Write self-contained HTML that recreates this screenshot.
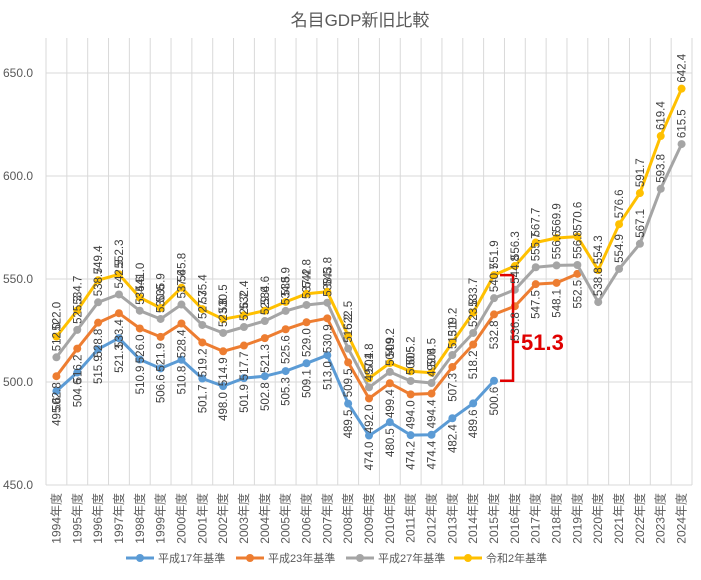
<!DOCTYPE html>
<html><head><meta charset="utf-8"><style>
body{margin:0;background:#fff;font-family:"Liberation Sans","Noto Sans CJK JP",sans-serif;}
svg text{font-family:"Liberation Sans","Noto Sans CJK JP",sans-serif;}
</style></head><body>
<svg id="chart" width="701" height="575" xmlns="http://www.w3.org/2000/svg">
<rect width="701" height="575" fill="#fff"/>
<text x="360" y="26" text-anchor="middle" font-size="17" fill="#595959">名目GDP新旧比較</text>
<g id="grid"></g><g id="series"></g><g id="labels"></g><g id="axes"></g>
</svg>
<script>
const years=[];for(let y=1994;y<=2024;y++)years.push(y);
const yTicks=[450,500,550,600,650];
const seriesNames=["平成17年基準","平成23年基準","平成27年基準","令和2年基準"];
const colors=["#5b9bd5","#ed7d31","#a5a5a5","#ffc000"];
const h17=[495.6,504.6,515.9,521.3,510.9,506.6,510.8,501.7,498.0,501.9,502.8,505.3,509.1,513.0,489.5,474.0,480.5,474.2,474.4,482.4,489.6,500.6];
const h23=[502.8,516.2,528.8,533.4,526.0,521.9,528.4,519.2,514.9,517.7,521.3,525.6,529.0,530.9,509.5,492.0,499.4,494.0,494.4,507.3,518.2,532.8,536.8,547.5,548.1,552.5];
const h27=[512.0,525.3,538.7,542.5,534.6,530.6,537.6,527.7,523.8,526.7,529.6,534.5,537.4,538.5,516.2,497.4,504.9,500.5,499.5,513.1,523.8,540.7,544.8,555.7,556.6,556.8,538.8,554.9,567.1,593.8,615.5];
const r2=[522.0,534.7,549.4,552.3,541.0,535.9,545.8,535.4,530.5,532.4,534.6,538.9,542.8,543.8,522.5,501.8,509.2,505.2,504.5,519.2,533.7,551.9,556.3,567.7,569.9,570.6,554.3,576.6,591.7,619.4,642.4];
const allSeries=[h17,h23,h27,r2];
const NS="http://www.w3.org/2000/svg";
const plotLeft=46,plotRight=692,plotTop=73,plotBottom=485;
const step=(plotRight-plotLeft)/years.length;
function X(i){return plotLeft+step*(i+0.5);}
function Y(v){return plotBottom-(v-450)/200*(plotBottom-plotTop);}
function mk(tag,attrs,parent,text){const e=document.createElementNS(NS,tag);for(const k in attrs)e.setAttribute(k,attrs[k]);if(text!==undefined)e.textContent=text;parent.appendChild(e);return e;}
const grid=document.getElementById('grid'),ser=document.getElementById('series'),lab=document.getElementById('labels'),ax=document.getElementById('axes');
yTicks.forEach(t=>{
 const l=mk('line',{x1:plotLeft,x2:plotRight,y1:Y(t),y2:Y(t),stroke:'#d9d9d9','stroke-width':1},grid);
 
 
 const tx=mk('text',{x:33,y:Y(t)+4,'text-anchor':'end','font-size':12,fill:'#595959'},ax,t.toFixed(1));
 
 
});
for(let i=0;i<=years.length;i++){
 const x=plotLeft+step*i;
 const l=mk('line',{x1:x,x2:x,y1:plotTop-35,y2:plotBottom,stroke:'#d9d9d9','stroke-width':1},grid);
 
 
}
years.forEach((y,i)=>{
 const tx=mk('text',{transform:`translate(${X(i)+4},${plotBottom+8}) rotate(-90)`,'text-anchor':'end','font-size':12,fill:'#595959'},ax,y+'年度');
 
 
});
allSeries.forEach((d,s)=>{
 const pts=d.map((v,i)=>X(i).toFixed(1)+','+Y(v).toFixed(1)).join(' ');
 const pl=mk('polyline',{points:pts,fill:'none',stroke:colors[s],'stroke-width':3,'stroke-linejoin':'round'},ser);
 
 
 d.forEach((v,i)=>{
  const c=mk('circle',{cx:X(i),cy:Y(v),r:4,fill:colors[s]},ser);
  
  
  const below=s<2;
  const yy=below?Y(v)+6:Y(v)-6;
  const t=mk('text',{transform:`translate(${X(i)+4},${yy}) rotate(-90)`,'text-anchor':below?'end':'start','font-size':11.5,fill:'#404040'},lab,v.toFixed(1));
  
  
 });
});
const bi=21,bx=X(bi)+19,y1=Y(h17[bi]),y2=Y(r2[bi]);
const br=mk('path',{d:`M${X(bi)+6},${y1} H${bx} V${y2} H${X(bi)+6} M${bx},${(y1+y2)/2+14} H${bx+6}`,fill:'none',stroke:'#e00000','stroke-width':2.5},ser);


const dt=mk('text',{x:bx+8,y:(y1+y2)/2+22,'font-size':22,'font-weight':'bold',fill:'#e00000'},ser,(r2[bi]-h17[bi]).toFixed(1));


const lx=[140,250,360,468];
seriesNames.forEach((n,s)=>{
 const g=mk('g',{},ax);
 
 
 mk('line',{x1:lx[s]-14,x2:lx[s]+14,y1:558,y2:558,stroke:colors[s],'stroke-width':3},g);
 mk('circle',{cx:lx[s],cy:558,r:4,fill:colors[s]},g);
 mk('text',{x:lx[s]+18,y:562,'font-size':11,fill:'#595959'},g,n);
});
</script>
</body></html>
